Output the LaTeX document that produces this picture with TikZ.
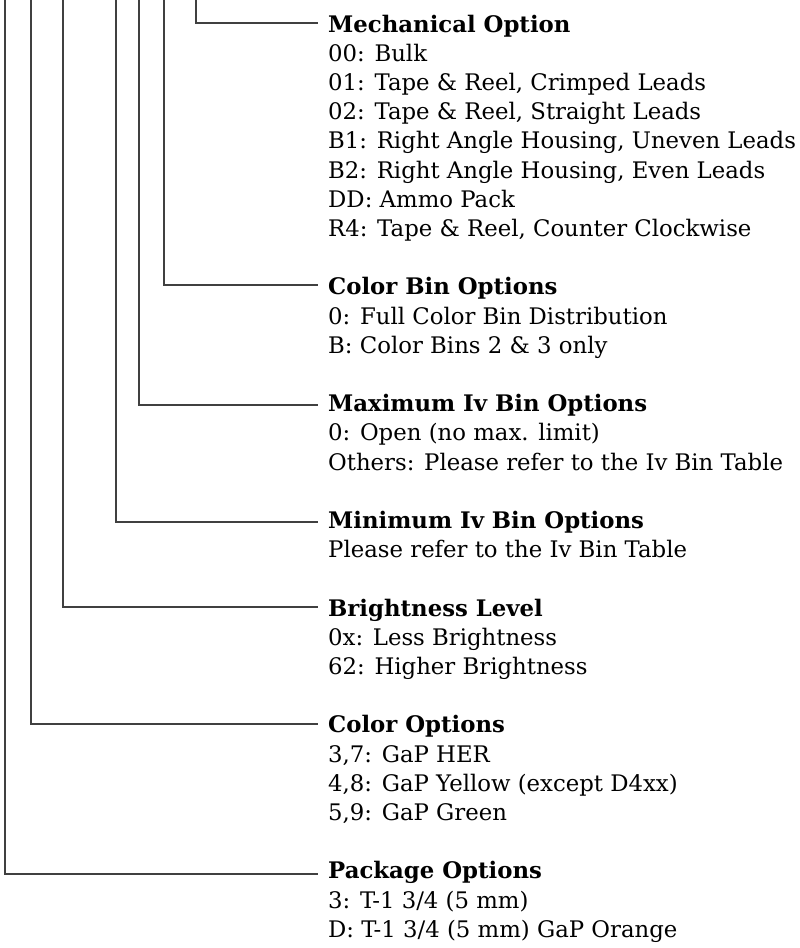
\documentclass[tikz,border=0pt]{standalone}
\usepackage{fontspec}
\setmainfont{DejaVu Serif}
\begin{document}
\begin{tikzpicture}[x=1pt,y=-1pt,
  conn/.style={draw=black!75,line width=1.3pt},
  head/.style={anchor=base west,inner sep=0pt,font=\fontsize{22.8}{29}\selectfont\bfseries},
  item/.style={anchor=base west,inner sep=0pt,font=\fontsize{22.8}{29}\selectfont}]
\useasboundingbox (0,0) rectangle (800,948);
\def\tx{328}
\def\ls{29.2}
% Mechanical
\node[head] (h1) at (\tx,32) {Mechanical Option};
\node[item] (m1) at (\tx,32+1*\ls) {00: Bulk};
\node[item] (m2) at (\tx,32+2*\ls) {01: Tape \& Reel, Crimped Leads};
\node[item] (m3) at (\tx,32+3*\ls) {02: Tape \& Reel, Straight Leads};
\node[item] (m4) at (\tx,32+4*\ls) {B1: Right Angle Housing, Uneven Leads};
\node[item] (m5) at (\tx,32+5*\ls) {B2: Right Angle Housing, Even Leads};
\node[item] (m6) at (\tx,32+6*\ls) {DD: Ammo Pack};
\node[item] (m7) at (\tx,32+7*\ls) {R4: Tape \& Reel, Counter Clockwise};
% Color bin
\node[head] (h2) at (\tx,32+9*\ls) {Color Bin Options};
\node[item] (c1) at (\tx,32+10*\ls) {0: Full Color Bin Distribution};
\node[item] (c2) at (\tx,32+11*\ls) {B: Color Bins 2 \& 3 only};
% Max
\node[head] (h3) at (\tx,32+13*\ls) {Maximum Iv Bin Options};
\node[item] (x1) at (\tx,32+14*\ls) {0: Open (no max. limit)};
\node[item] (x2) at (\tx,32+15*\ls) {Others: Please refer to the Iv Bin Table};
% Min
\node[head] (h4) at (\tx,32+17*\ls) {Minimum Iv Bin Options};
\node[item] (n1) at (\tx,32+18*\ls) {Please refer to the Iv Bin Table};
% Brightness
\node[head] (h5) at (\tx,32+20*\ls) {Brightness Level};
\node[item] (b1) at (\tx,32+21*\ls) {0x: Less Brightness};
\node[item] (b2) at (\tx,32+22*\ls) {62: Higher Brightness};
% Color
\node[head] (h6) at (\tx,32+24*\ls) {Color Options};
\node[item] (o1) at (\tx,32+25*\ls) {3,7: GaP HER};
\node[item] (o2) at (\tx,32+26*\ls) {4,8: GaP Yellow (except D4xx)};
\node[item] (o3) at (\tx,32+27*\ls) {5,9: GaP Green};
% Package
\node[head] (h7) at (\tx,32+29*\ls) {Package Options};
\node[item] (p1) at (\tx,32+30*\ls) {3: T-1 3/4 (5 mm)};
\node[item] (p2) at (\tx,32+31*\ls) {D: T-1 3/4 (5 mm) GaP Orange};
% connector coordinates
\coordinate (t1) at (196,0);  \coordinate (e1) at (318,23);
\coordinate (t2) at (164,0);  \coordinate (e2) at (318,285);
\coordinate (t3) at (139,0);  \coordinate (e3) at (318,405);
\coordinate (t4) at (116,0);  \coordinate (e4) at (318,522);
\coordinate (t5) at (63,0);   \coordinate (e5) at (318,607);
\coordinate (t6) at (31,0);   \coordinate (e6) at (318,724);
\coordinate (t7) at (5,0);    \coordinate (e7) at (318,874);
\foreach \i in {1,...,7}{\draw[conn] (t\i) |- (e\i);}
\end{tikzpicture}
\end{document}
